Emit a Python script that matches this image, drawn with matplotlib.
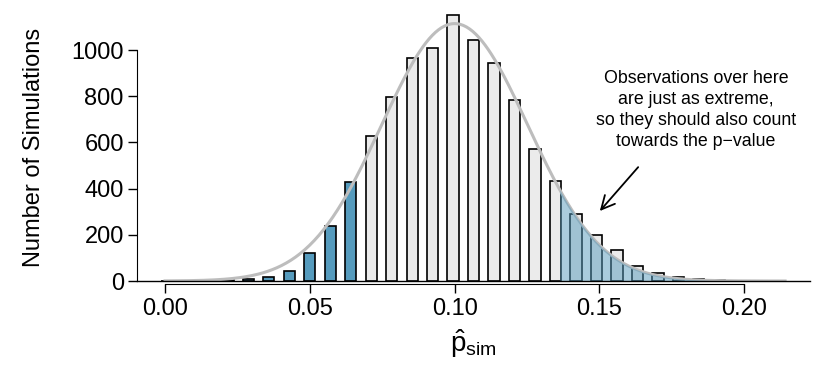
import numpy as np
import matplotlib.pyplot as plt

plt.rcParams['font.family'] = ['Liberation Sans', 'DejaVu Sans']
plt.rcParams['mathtext.fontset'] = 'custom'
plt.rcParams['mathtext.rm'] = 'Liberation Sans'
plt.rcParams['mathtext.it'] = 'Liberation Sans'

# DONNEES : comptes des simulations par valeur de p-chapeau
counts = [0, 1, 2, 3, 7, 19, 45, 123, 240, 427,
          629, 796, 967, 1009, 1150, 1043, 944, 785, 573, 434,
          291, 199, 134, 65, 35, 18, 9, 5, 2, 1, 1]
p_step = 0.00707
p_hat = 0.0005 + p_step * np.arange(len(counts))
null_p = 0.10
n_left_tail = 10          # les 10 premieres barres sont dans la queue gauche
n_sims = sum(counts)
null_sd = 0.0252

xticks = [0.00, 0.05, 0.10, 0.15, 0.20]
yticks = [0, 200, 400, 600, 800, 1000]

# COULEURS
blue = '#569BBD'
gray_fill = '#EBEBEB'
curve_col = '#BDBDBD'

fig = plt.figure(figsize=(8.25, 3.75), dpi=100)
ax = fig.add_axes([137/825, 1 - 281/375, (810 - 137)/825, (281 - 14)/375])

# BARRES
colors = [blue if i < n_left_tail else gray_fill for i in range(len(counts))]
ax.bar(p_hat, counts, width=0.0039, color=colors, edgecolor='black',
       linewidth=1.2, zorder=2)

# COURBE NORMALE
xs = np.linspace(0, 0.2141, 400)
ys = n_sims * p_step / (np.sqrt(2 * np.pi) * null_sd) * np.exp(-0.5 * ((xs - null_p) / null_sd) ** 2)
ax.plot(xs, ys, color=curve_col, lw=2.2, zorder=3)

# ZONE OMBREE (queue droite)
cut = 2 * null_p - p_hat[n_left_tail - 1]
mask = xs >= cut
ax.fill_between(xs[mask], 0, ys[mask], color=blue, alpha=0.5, lw=0, zorder=4)

ax.axhline(0, color='black', lw=1, zorder=5, clip_on=False)

# AXES
ax.set_xlim(-0.00967, 0.2227)
ax.set_ylim(0, 1156)
for s in ['top', 'right']:
    ax.spines[s].set_visible(False)
ax.spines['left'].set_bounds(0, 1000)
ax.spines['bottom'].set_bounds(0, 0.2)
ax.spines['bottom'].set_position(('outward', 2))
ax.set_xticks(xticks)
ax.set_xticklabels([f'{t:.2f}' for t in xticks])
ax.set_yticks(yticks)
ax.tick_params(labelsize=17, length=6.5, width=1, direction='out')
ax.tick_params(axis='x', pad=4)
ax.tick_params(axis='y', pad=3)

ax.set_ylabel('Number of Simulations', fontsize=17, labelpad=19)
ax.set_xlabel(r'$\hat{\mathrm{p}}_{\mathrm{sim}}$', fontsize=20, labelpad=5)

# ANNOTATION
ax.text(0.1833, 740, 'Observations over here\nare just as extreme,\nso they should also count\ntowards the p\u2212value',
        ha='center', va='center', fontsize=12.8, linespacing=1.3)
ax.annotate('', xy=(0.1495, 294), xytext=(0.164, 502),
            arrowprops=dict(arrowstyle='->', lw=1.3, color='black',
                            mutation_scale=24))

fig.savefig('out.png', dpi=100)
